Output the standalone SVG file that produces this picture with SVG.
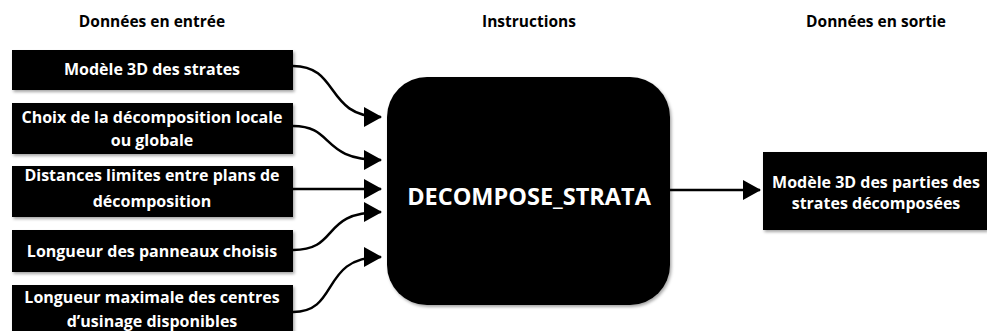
<svg xmlns="http://www.w3.org/2000/svg" width="987" height="331" viewBox="0 0 987 331">
<defs>
<style>
.title{font-family:"Open Sans","Liberation Sans",sans-serif;font-weight:700;font-size:15.5px;fill:#000;text-anchor:middle}
.bx{fill:#000;filter:url(#sh)}
.lbl{font-family:"Open Sans","Liberation Sans",sans-serif;font-weight:700;font-size:16px;fill:#fff;text-anchor:middle}
.big{font-family:"Open Sans","Liberation Sans",sans-serif;font-weight:700;font-size:23.5px;fill:#fff;text-anchor:middle}
.con{fill:none;stroke:#000;stroke-width:2.5}
</style>
<filter id="sh" x="-5%" y="-5%" width="115%" height="120%">
<feDropShadow dx="1.5" dy="2" stdDeviation="1.5" flood-color="#000" flood-opacity="0.35"/>
</filter>
<marker id="ah" viewBox="0 0 18 20" refX="17" refY="10" markerWidth="18" markerHeight="20" markerUnits="userSpaceOnUse" orient="auto">
<path d="M0,0 L18,10 L0,20 Z" fill="#000"/>
</marker>
</defs>
<text class="title" x="152" y="27">Données en entrée</text>
<text class="title" x="529" y="27">Instructions</text>
<text class="title" x="876" y="27">Données en sortie</text>
<g id="in1"><rect class="bx" x="12" y="50" width="281" height="40"/><text class="lbl" x="152" y="75">Modèle 3D des strates</text></g>
<g id="in2"><rect class="bx" x="12" y="103" width="281" height="51"/><text class="lbl" x="152" y="123">Choix de la décomposition locale</text><text class="lbl" x="152" y="146">ou globale</text></g>
<g id="in3"><rect class="bx" x="12" y="166" width="281" height="51"/><text class="lbl" x="152" y="181">Distances limites entre plans de</text><text class="lbl" x="152" y="207">décomposition</text></g>
<g id="in4"><rect class="bx" x="12" y="230" width="281" height="42"/><text class="lbl" x="152" y="257">Longueur des panneaux choisis</text></g>
<g id="in5"><rect class="bx" x="12" y="285" width="281" height="46"/><text class="lbl" x="152" y="303">Longueur maximale des centres</text><text class="lbl" x="152" y="327">d’usinage disponibles</text></g>
<g id="proc"><rect class="bx" x="387" y="77" width="283" height="228" rx="40" ry="40"/><text class="big" x="529" y="205">DECOMPOSE_STRATA</text></g>
<g id="out"><rect class="bx" x="763" y="152" width="224" height="78"/><text class="lbl" x="876" y="188">Modèle 3D des parties des</text><text class="lbl" x="876" y="209">strates décomposées</text></g>
<g id="connectors">
<path class="con" marker-end="url(#ah)" d="M293,66 C340,66 325,117 381,117"/>
<path class="con" marker-end="url(#ah)" d="M293,126 C335,126 320,160 381,160"/>
<path class="con" marker-end="url(#ah)" d="M293,189 L381,189"/>
<path class="con" marker-end="url(#ah)" d="M293,250 C340,250 320,212 381,212"/>
<path class="con" marker-end="url(#ah)" d="M293,312 C340,312 320,257 381,257"/>
<path class="con" marker-end="url(#ah)" d="M670,190 L760,190"/>
</g>
</svg>
